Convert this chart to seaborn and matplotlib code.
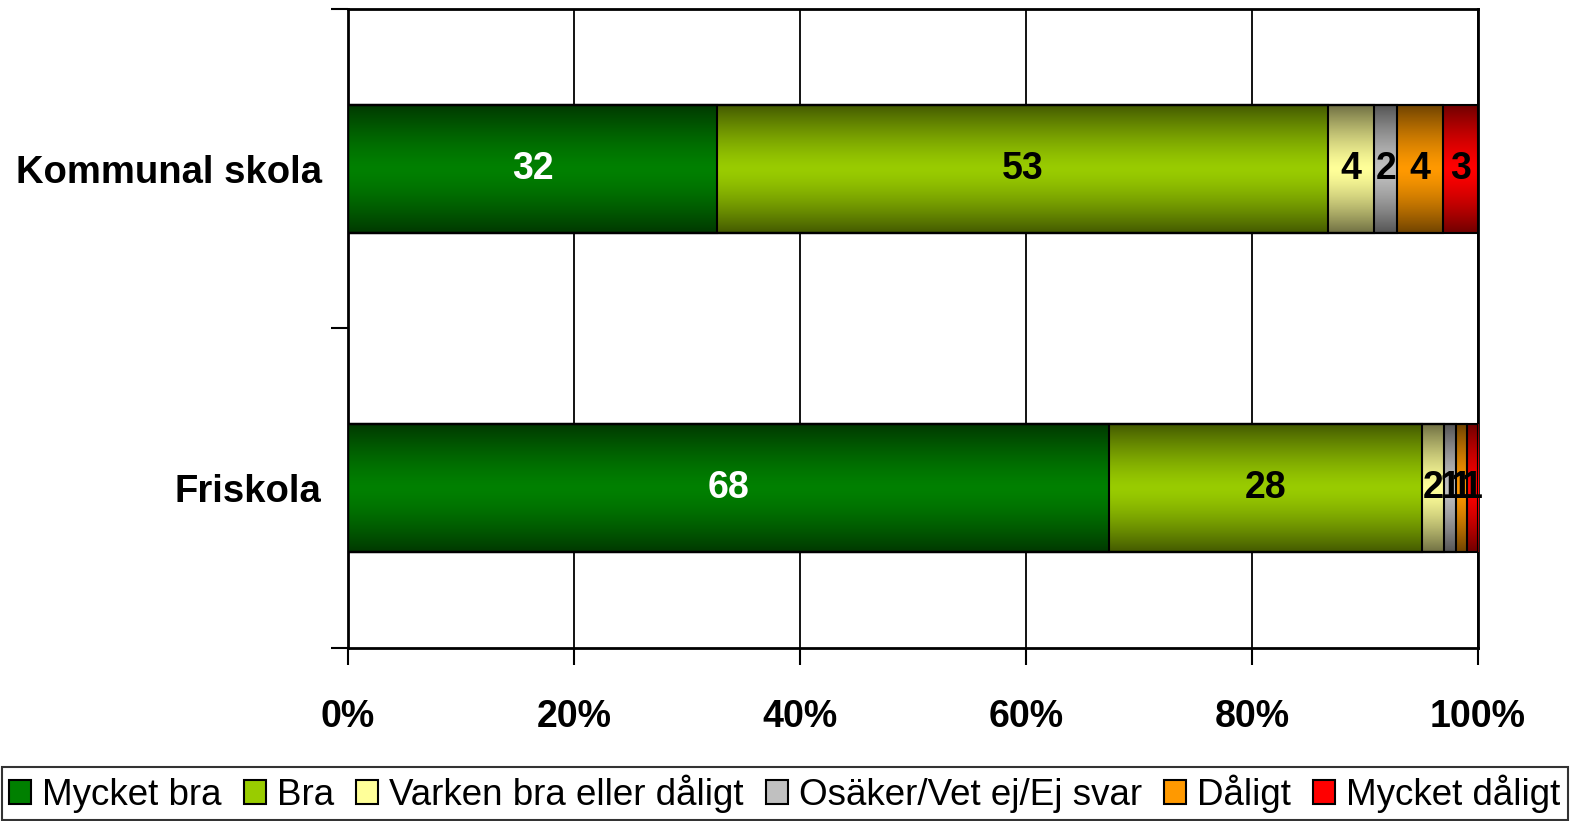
import numpy as np
import pandas as pd
import matplotlib
matplotlib.use("Agg")
import matplotlib.pyplot as plt
import seaborn as sns
from matplotlib.patches import Patch
from matplotlib.colors import to_rgb

schools = ["Kommunal skola", "Friskola"]
series = ["Mycket bra", "Bra", "Varken bra eller dåligt",
          "Osäker/Vet ej/Ej svar", "Dåligt", "Mycket dåligt"]
mycket_bra = [32, 68]
bra = [53, 28]
varken = [4, 2]
osaker = [2, 1]
daligt = [4, 1]
mycket_daligt = [3, 1]
colors = ["#008000", "#99CC00", "#FFFF99", "#C0C0C0", "#FF9900", "#FF0000"]
label_colors = ["white", "black", "black", "black", "black", "black"]
xticks = [0, 20, 40, 60, 80, 100]

df = pd.DataFrame([mycket_bra, bra, varken, osaker, daligt, mycket_daligt],
                  index=series, columns=schools).T
pct = df.div(df.sum(axis=1), axis=0) * 100
cum = pct.cumsum(axis=1)
start = cum - pct


def gradient(color, n=64):
    # dark at the bar edges, bright in the middle (Excel cylinder look)
    t = np.linspace(0, 1, n)
    f = 1 - 0.55 * np.abs(2 * t - 1) ** 1.4
    rgb = np.array(to_rgb(color))
    return (f[:, None] * rgb[None, :])[:, None, :]


sns.set_theme(style="white")
plt.rcParams["font.family"] = ["Liberation Sans", "DejaVu Sans"]
plt.rcParams["text.color"] = "black"
plt.rcParams["xtick.color"] = "black"
plt.rcParams["ytick.color"] = "black"

fig = plt.figure(figsize=(15.94, 8.21), dpi=100)
ax = fig.add_axes([348 / 1594, 1 - 648 / 821, 1130 / 1594, 639 / 821])

for i in reversed(range(len(series))):
    sns.barplot(x=cum[series[i]].values, y=schools, orient="h", color=colors[i],
                saturation=1, width=0.4, edgecolor="black", linewidth=1.5,
                ax=ax, zorder=3)
    for j, p in enumerate(ax.patches[-len(schools):]):
        y0, h = p.get_y(), p.get_height()
        x0, x1 = start.iloc[j, i], cum.iloc[j, i]
        ax.imshow(gradient(colors[i]), extent=(x0, x1, y0 + h, y0),
                  aspect="auto", interpolation="bilinear", zorder=3.5)
        p.set_facecolor("none")
        p.set_zorder(4)
        ax.text((x0 + x1) / 2, y0 + h / 2, str(df.iloc[j, i]), ha="center",
                va="center", fontsize=27, fontweight="bold",
                color=label_colors[i], zorder=5)

ax.set_xlim(0, 100)
ax.set_ylim(1.5, -0.5)
ax.set_aspect("auto")
ax.set_xticks(xticks)
ax.set_xticklabels([f"{v}%" for v in xticks], fontsize=27, fontweight="bold")
ax.set_yticks(range(len(schools)))
ax.set_yticklabels(schools, fontsize=27.5, fontweight="bold")
ax.set_yticks([-0.5, 0.5, 1.5], minor=True)
ax.set_xlabel("")
ax.set_ylabel("")
ax.tick_params(axis="x", direction="out", length=12, width=1.5, pad=25,
               colors="black", bottom=True)
ax.tick_params(axis="y", which="major", length=0, pad=19, colors="black")
ax.tick_params(axis="y", which="minor", direction="out", length=12, width=1.5,
               left=True, colors="black")
ax.xaxis.grid(True, color="black", linewidth=1.3)
ax.yaxis.grid(False)
ax.set_axisbelow(True)
for s in ax.spines.values():
    s.set_color("black")
    s.set_linewidth(2)

handles = [Patch(facecolor=c, edgecolor="black", linewidth=1.5) for c in colors]
leg = fig.legend(handles, series, loc="lower left",
                 bbox_to_anchor=(0.001, 0.001), ncol=6, frameon=True,
                 fancybox=False, edgecolor="black", fontsize=26.5,
                 labelcolor="black",
                 handlelength=0.6, handleheight=0.6, handletextpad=0.3,
                 columnspacing=0.6, borderpad=0.2, borderaxespad=0)
leg.get_frame().set_linewidth(1.5)

fig.savefig("out.png", dpi=100)
